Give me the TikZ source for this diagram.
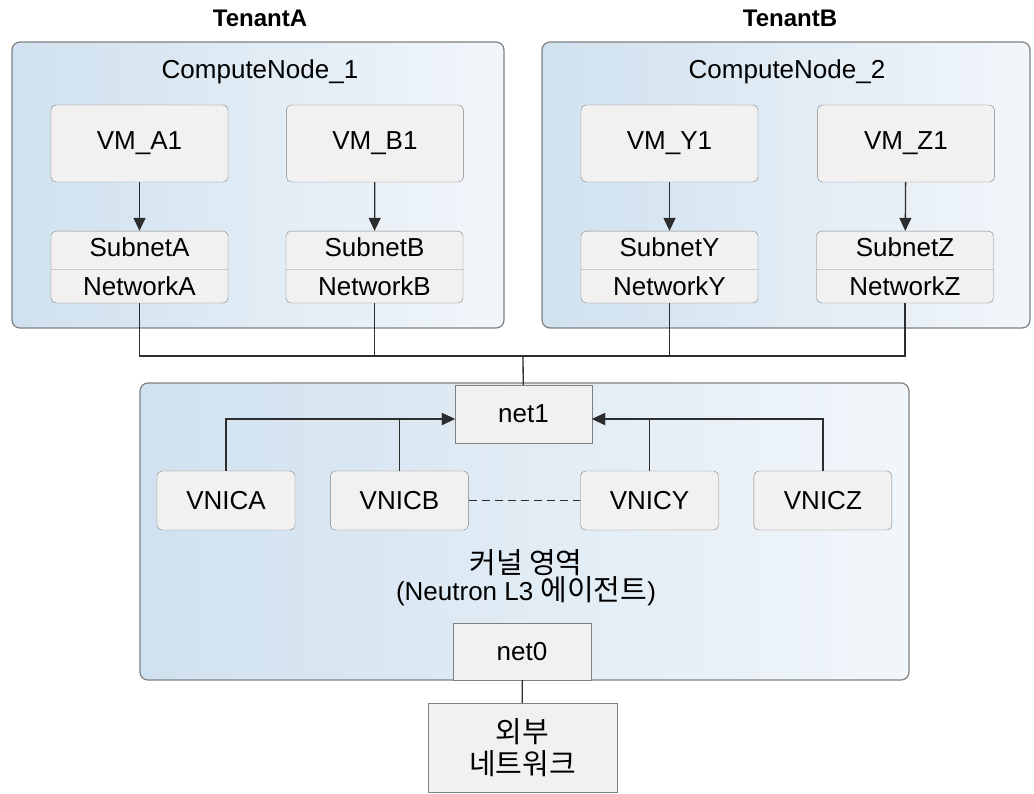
\documentclass[tikz,border=0pt]{standalone}
\usepackage{fontspec}
\setmainfont{Liberation Sans}
\newfontfamily\kr{Noto Sans CJK KR}
\usetikzlibrary{positioning,arrows.meta,shapes.multipart}
\definecolor{hostblue}{RGB}{208,225,239}
\definecolor{hostpale}{RGB}{241,246,250}
\definecolor{boxfill}{RGB}{241,241,241}
\definecolor{boxline}{RGB}{128,128,128}
\definecolor{wire}{RGB}{45,45,45}
\newcommand{\hangul}[1]{{\fontsize{29}{34}\selectfont\kr #1}}
\tikzset{
  every node/.style={font=\fontsize{26}{31}\selectfont},
  tenant/.style={font=\fontsize{24}{28}\selectfont\bfseries},
  host/.style={draw=boxline, line width=1.2pt, rounded corners=8,
    left color=hostblue, right color=hostpale},
  vm/.style={draw=boxline, fill=boxfill, rounded corners=5,
    minimum width=177, minimum height=77},
  net/.style={rectangle split, rectangle split parts=2, draw=boxline,
    fill=boxfill, rounded corners=5, minimum width=177,
    text height=18, text depth=6, inner ysep=7},
  vnic/.style={draw=boxline, fill=boxfill, rounded corners=5,
    minimum width=138, minimum height=59},
  nic/.style={draw=boxline, fill=boxfill, minimum width=137, minimum height=58},
  link/.style={draw=wire, line width=1.3pt},
  uplink/.style={link, -{Triangle[length=13,width=12]}}
}
\begin{document}
\begin{tikzpicture}[x=1pt, y=-1pt]
  \useasboundingbox (0,0) rectangle (1034,793);

  % tenants and their compute nodes
  \node[tenant] (tA) at (260,18) {TenantA};
  \node[tenant] (tB) at (790,18) {TenantB};
  \node[host, minimum width=492, minimum height=286] (cn1) at (258,185) {};
  \node[host, minimum width=488, minimum height=286] (cn2) at (786,185) {};
  \node (cn1name) at (260,72) {ComputeNode\_1};
  \node (cn2name) at (787,72) {ComputeNode\_2};

  \node[vm] (vmA) at (139.5,143.5) {VM\_A1};
  \node[vm, right=58 of vmA] (vmB) {VM\_B1};
  \node[vm] (vmY) at (669.5,143.5) {VM\_Y1};
  \node[vm, right=59 of vmY] (vmZ) {VM\_Z1};

  \node[net] (subA) at (139.5,267) {SubnetA \nodepart{two} NetworkA};
  \node[net] (subB) at (374.5,267) {SubnetB \nodepart{two} NetworkB};
  \node[net] (subY) at (669.5,267) {SubnetY \nodepart{two} NetworkY};
  \node[net] (subZ) at (905,267) {SubnetZ \nodepart{two} NetworkZ};

  % kernel zone
  \node[host, minimum width=769, minimum height=297] (kern) at (524.5,531.5) {};
  \node[nic] (net1) at (523.5,414) {net1};
  \node[vnic] (vnicA) at (226,500.5) {VNICA};
  \node[vnic, right=35 of vnicA] (vnicB) {VNICB};
  \node[vnic] (vnicY) at (649.5,500.5) {VNICY};
  \node[vnic, right=35 of vnicY] (vnicZ) {VNICZ};
  \node[align=center] (kernname) at (526,578)
    {\hangul{커널 영역}\\[-4pt](Neutron L3 \hangul{에이전트})};
  \node[nic, minimum width=138, minimum height=57] (net0) at (522,651.5) {net0};
  \node[draw=boxline, fill=boxfill, minimum width=189, minimum height=89,
    align=center, font=\fontsize{29}{32}\selectfont\kr] (ext) at (522.5,747.5)
    {외부\\네트워크};

  % wiring
  \foreach \v in {A,B,Y,Z}
    \draw[uplink] (vm\v) -- (sub\v);
  \coordinate (bus) at (523,356);
  \foreach \v in {A,B,Y,Z}
    \draw[link] (sub\v.south) |- (bus);
  \draw[link] (bus) -- (net1);
  \draw[uplink] (vnicA.north) |- ([yshift=-5]net1.west);
  \draw[uplink] (vnicB.north) |- ([yshift=-5]net1.west);
  \draw[uplink] (vnicZ.north) |- ([yshift=-5]net1.east);
  \draw[uplink] (vnicY.north) |- ([yshift=-5]net1.east);
  \draw[link, dashed, dash pattern=on 8pt off 5pt] (vnicB) -- (vnicY);
  \draw[link] (net0) -- (ext);
\end{tikzpicture}
\end{document}
